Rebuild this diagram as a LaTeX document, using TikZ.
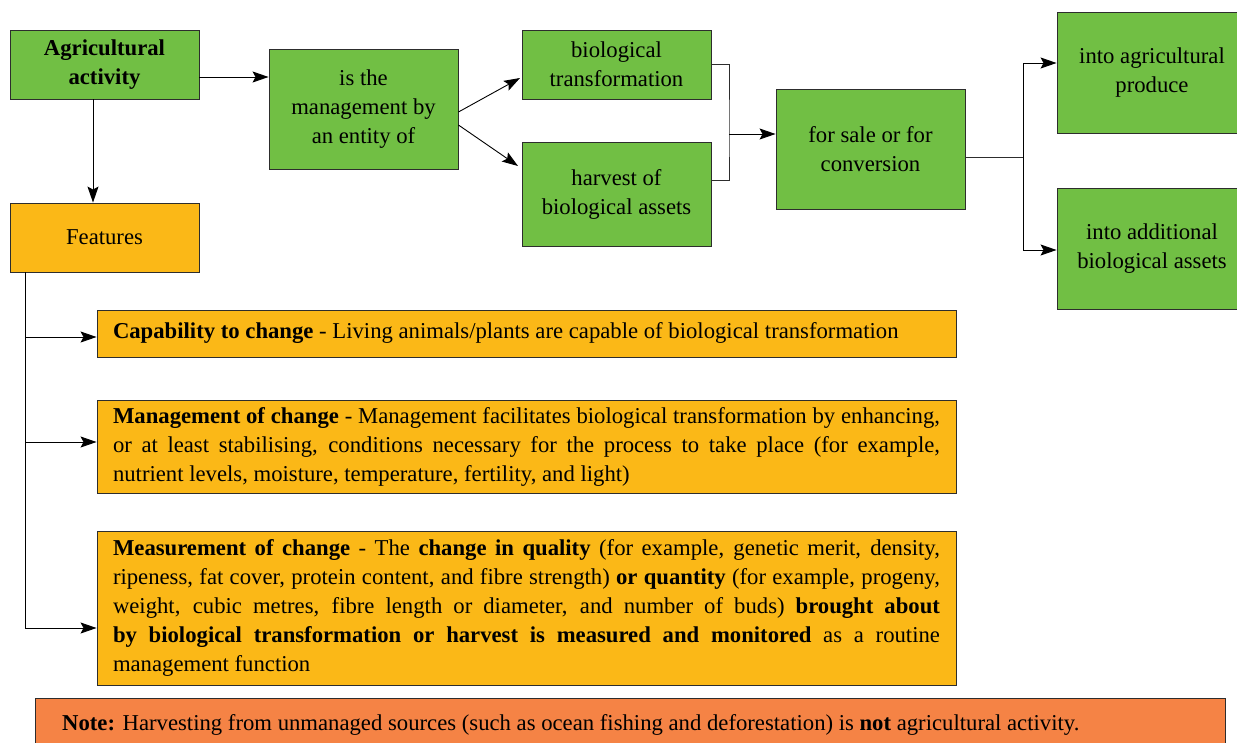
\documentclass[tikz,border=0pt]{standalone}
\usepackage{fontspec}
\setmainfont{Liberation Serif}
\usetikzlibrary{arrows.meta}
\definecolor{gfill}{RGB}{113,191,68}
\definecolor{ofill}{RGB}{251,184,23}
\definecolor{nfill}{RGB}{245,131,69}
\definecolor{edge}{RGB}{45,45,45}
\begin{document}
\begin{tikzpicture}[x=1pt,y=-1pt,
  base/.style={draw=edge, line width=0.9pt, inner sep=0pt, font=\fontsize{22.7}{29}\selectfont},
  gbox/.style={base, fill=gfill, align=center},
  obox/.style={base, fill=ofill, align=center},
  fbox/.style={base, fill=ofill, text width=827pt, inner xsep=16pt, align=justify},
  arr/.style={-{Stealth[length=16pt,width=11pt,inset=3pt]}, line width=0.9pt, draw=black},
  ln/.style={line width=0.9pt, draw=edge}
]
\useasboundingbox (0,0) rectangle (1237,742);
\node[gbox, minimum width=189, minimum height=69] (agri) at (104.5,64.5) {\textbf{Agricultural}\\\textbf{activity}};
\node[gbox, minimum width=189, minimum height=120] (mgmt) at (363.5,109) {is the\\management by\\an entity of};
\node[gbox, minimum width=189, minimum height=69] (bio) at (616.5,64.5) {biological\\transformation};
\node[gbox, minimum width=189, minimum height=104] (harv) at (616.5,194) {harvest of\\biological assets};
\node[gbox, minimum width=189, minimum height=120] (sale) at (870.5,149) {for sale or for\\conversion};
\node[gbox, minimum width=190, minimum height=121] (prod) at (1152,72.5) {into agricultural\\produce};
\node[gbox, minimum width=190, minimum height=121] (addl) at (1152,248.5) {into additional\\biological assets};
\node[obox, minimum width=189, minimum height=69] (feat) at (104.5,237.5) {Features};

\node[fbox, minimum height=47] (cap) at (526.5,333.5) {\textbf{Capability to change} - Living animals/plants are capable of biological transformation};
\node[fbox, minimum height=93] (man) at (526.5,446.5) {\textbf{Management of change} - Management facilitates biological transformation by enhancing,\linebreak or at least stabilising, conditions necessary for the process to take place (for example,\linebreak nutrient levels, moisture, temperature, fertility, and light)};
\node[fbox, minimum height=154] (meas) at (526.5,608) {\textbf{Measurement of change} - The \textbf{change in quality} (for example, genetic merit, density,\linebreak ripeness, fat cover, protein content, and fibre strength) \textbf{or quantity} (for example, progeny,\linebreak weight, cubic metres, fibre length or diameter, and number of buds) \textbf{brought about}\linebreak \textbf{by biological transformation or harvest is measured and monitored} as a routine\linebreak management function};
\node[base, fill=nfill, minimum width=1190, minimum height=52] (note) at (630,724) {};
\node[anchor=west, inner sep=0pt, font=\fontsize{22.7}{29}\selectfont] (notetext) at (62,725) {\textbf{Note:} Harvesting from unmanaged sources (such as ocean fishing and deforestation) is \textbf{not} agricultural activity.};

% top flow
\draw[arr] (agri.east |- 0,77) -- (mgmt.west |- 0,77);
\draw[arr] (93,99) -- (feat.north -| 93,0);
\draw[arr] (mgmt.east |- 0,112) -- (520,78);
\draw[arr] (mgmt.east |- 0,125) -- (518,166);
\coordinate (bj) at (729,134);
\draw[ln] (bio.east |- 0,64) -| (bj) |- (harv.east |- 0,180);
\draw[arr] (bj) -- (sale.west |- bj);
\coordinate (sj) at (1023,157);
\draw[ln] (sale.east |- sj) -- (sj);
\draw[arr] (sj) |- (prod.west |- 0,63);
\draw[arr] (sj) |- (addl.west |- 0,250);

% features
\coordinate (fl) at (25,628);
\draw[ln, draw=black] (feat.south -| fl) -- (fl);
\draw[arr] (25,337) -- (cap.west |- 0,337);
\draw[arr] (25,442) -- (man.west |- 0,442);
\draw[arr] (fl) -- (meas.west |- fl);
\end{tikzpicture}
\end{document}
